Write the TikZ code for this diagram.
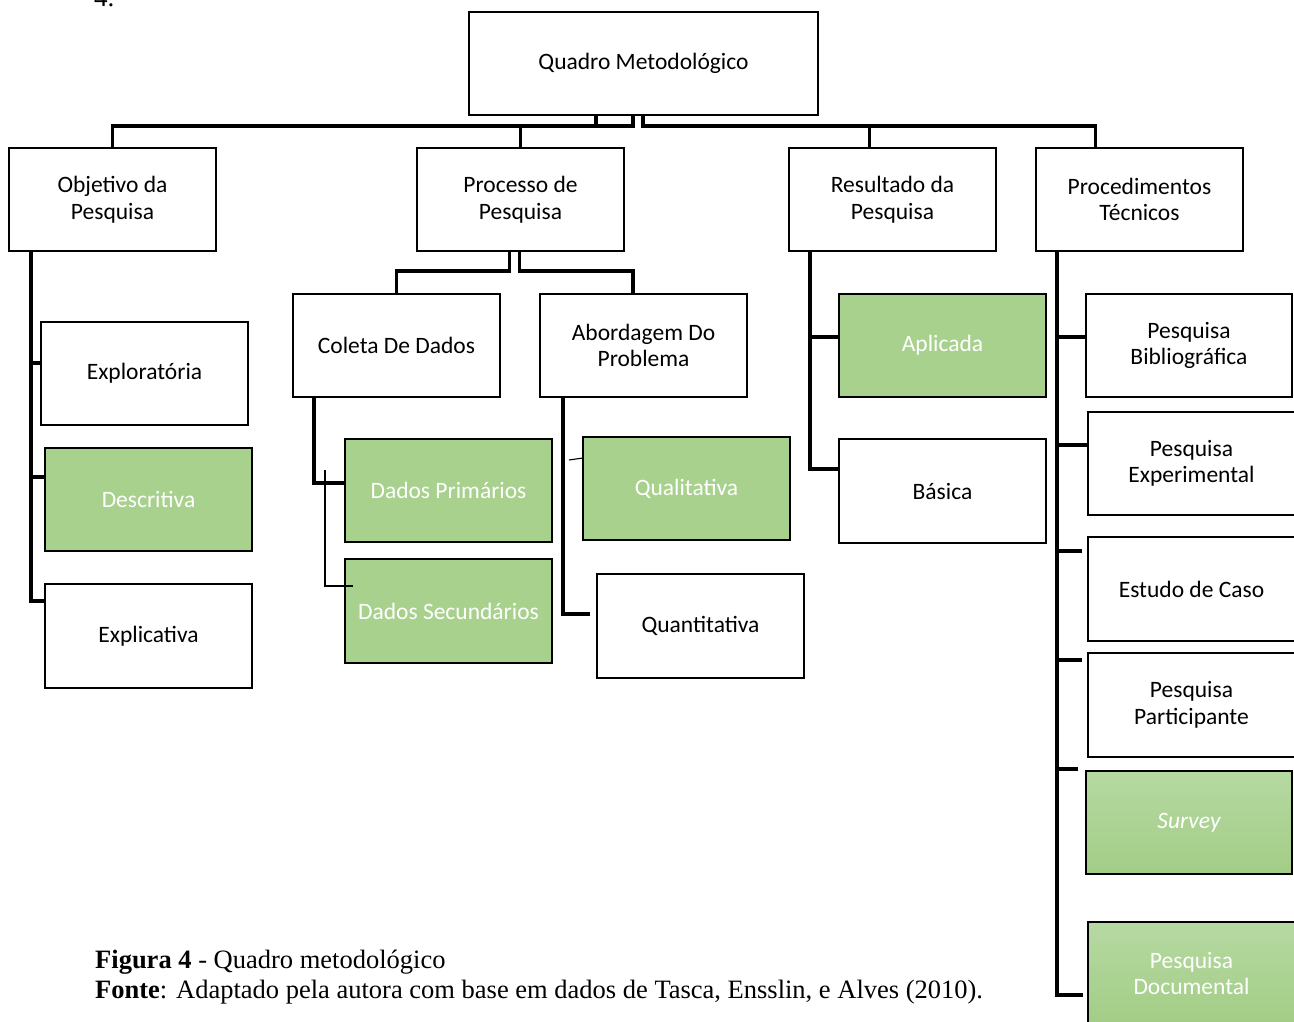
\documentclass[tikz,border=0pt]{standalone}
\usepackage{fontspec}
\usepackage{graphicx}
\setmainfont{Carlito}
\newfontfamily\capfont{Liberation Serif}
\definecolor{boxgreen}{HTML}{A9D18E}
\definecolor{shadetop}{HTML}{B6D9A2}
\definecolor{shadebot}{HTML}{A2CD86}
\begin{document}
\begin{tikzpicture}[x=1pt,y=-1pt,
  box/.style={draw=black, line width=2.7pt, fill=white, outer sep=0pt,
    minimum width=207pt, minimum height=103pt, align=center, inner sep=0pt,
    font=\fontsize{23.5}{26.5}\selectfont, anchor=north west},
  greenbox/.style={box, fill=boxgreen, text=white},
  shadebox/.style={box, top color=shadetop, bottom color=shadebot, text=white},
  conn/.style={line width=3.2pt},
  fine/.style={line width=1.1pt}
]
\useasboundingbox (0,0) rectangle (1294,1021);
\clip (0,0) rectangle (1294,1021);
\fill[white] (0,0) rectangle (1294,1021);

% heading fragment cut by the top edge
\node[anchor=base west, inner sep=0pt, font=\capfont\fontsize{27}{30}\selectfont] (headfrag) at (94,6) {4.};

% root
\node[box, minimum width=349pt] (quadro) at (469,12) {Quadro Metodológico};

% first level
\node[box] (objetivo) at (9,148) {Objetivo da\\Pesquisa};
\node[box] (processo) at (417,148) {Processo de\\Pesquisa};
\node[box] (resultado) at (789,148) {Resultado da\\Pesquisa};
\node[box] (procedimentos) at (1036,148) {Procedimentos\\Técnicos};

% objetivo da pesquisa
\node[box] (explor) at (41,322) {Exploratória};
\node[greenbox] (descr) at (45,448) {Descritiva};
\node[box, minimum height=104pt] (expl) at (45,584) {Explicativa};

% processo de pesquisa
\node[box] (coleta) at (293,294) {Coleta De Dados};
\node[box] (abord) at (540,294) {Abordagem Do\\Problema};
\node[greenbox] (dprim) at (345,439) {Dados Primários};
\node[greenbox, minimum height=104pt] (dsec) at (345,559) {Dados Secundários};
\node[greenbox] (quali) at (583,437) {Qualitativa};
\node[box, minimum height=104pt] (quanti) at (597,574) {Quantitativa};

% resultado da pesquisa
\node[greenbox] (aplic) at (839,294) {Aplicada};
\node[box, minimum height=104pt] (basica) at (839,439) {Básica};

% procedimentos técnicos
\node[box, minimum width=206pt] (biblio) at (1086,294) {Pesquisa\\Bibliográfica};
\node[box] (exper) at (1088,412) {Pesquisa\\Experimental};
\node[box, minimum height=104pt] (estudo) at (1088,537) {Estudo de Caso};
\node[box, minimum height=104pt] (partic) at (1088,653) {Pesquisa\\Participante};
\node[shadebox, minimum width=206pt] (survey) at (1086,771) {\itshape Survey};
\node[shadebox] (docum) at (1088,922) {Pesquisa\\Documental};

% root to first level
\coordinate (busY) at (0,126);
\coordinate (qa) at ([xshift=-47.5pt]quadro.south);
\coordinate (qb) at ([xshift=-10.5pt]quadro.south);
\coordinate (qc) at ([xshift=-0.5pt]quadro.south);
\draw[conn] (qa) |- (objetivo.north |- busY) -- (objetivo.north);
\draw[conn] (qa) |- (qb |- busY) -- (qb);
\draw[conn] (processo.north) -- (processo.north |- busY);
\coordinate (pt) at ([xshift=-44pt]procedimentos.north);
\coordinate (rt) at ([xshift=-23pt]resultado.north);
\draw[conn] (qc) |- (pt |- busY) -- (pt);
\draw[conn] (rt) -- (rt |- busY);

% objetivo branch
\coordinate (oT) at ([xshift=22pt]objetivo.south west);
\draw[conn] ([yshift=-17pt]expl.north west) -| (oT);
\draw[conn] ([yshift=-29pt]descr.north west) -| (oT);
\draw[conn] ([yshift=-41pt]explor.north west) -| (oT);

% processo branch
\coordinate (busY2) at (0,271);
\coordinate (pa) at ([xshift=-11pt]processo.south);
\coordinate (pb) at ([xshift=-1pt]processo.south);
\coordinate (ab) at ([xshift=-10.5pt]abord.north);
\draw[conn] (pa) |- (coleta.north |- busY2) -- (coleta.north);
\draw[conn] (pb) |- (ab |- busY2) -- (ab);

% coleta branch
\draw[conn] ([yshift=-44pt]dprim.north west) -| ([xshift=21pt]coleta.south west);
\draw[fine] ([xshift=8pt,yshift=-27pt]dsec.north west) -| ([xshift=-20pt,yshift=-31pt]dprim.north west);

% abordagem branch
\draw[conn] ([xshift=-7pt,yshift=-40pt]quanti.north west) -| ([xshift=23pt]abord.south west);
\draw[fine] ([xshift=-14pt,yshift=-23pt]quali.north west) -- ([yshift=-21pt]quali.north west);

% resultado branch
\coordinate (rT) at ([xshift=21pt]resultado.south west);
\draw[conn] ([yshift=-30pt]basica.north west) -| (rT);
\draw[conn] ([yshift=-43pt]aplic.north west) -| (rT);

% procedimentos branch
\coordinate (tT) at ([xshift=21pt]procedimentos.south west);
\draw[conn] ([xshift=-5pt,yshift=-73pt]docum.north west) -| (tT);
\draw[conn] ([xshift=-8pt,yshift=2pt]survey.north west) -| (tT);
\draw[conn] ([xshift=-6pt,yshift=-7pt]partic.north west) -| (tT);
\draw[conn] ([xshift=-6pt,yshift=-14pt]estudo.north west) -| (tT);
\draw[conn] ([yshift=-33pt]exper.north west) -| (tT);
\draw[conn] ([yshift=-43pt]biblio.north west) -| (tT);

% caption
\node[anchor=base west, inner sep=0pt, font=\capfont\fontsize{26.5}{30}\selectfont] (fig) at (95,968)
  {\textbf{Figura 4} - Quadro metodológico};
\node[anchor=base west, inner sep=0pt, font=\capfont\fontsize{26.5}{30}\selectfont] (fonte) at (95,998)
  {\textbf{Fonte}: Adaptado pela autora com base em dados de Tasca, Ensslin, e Alves (2010).};
\end{tikzpicture}
\end{document}
